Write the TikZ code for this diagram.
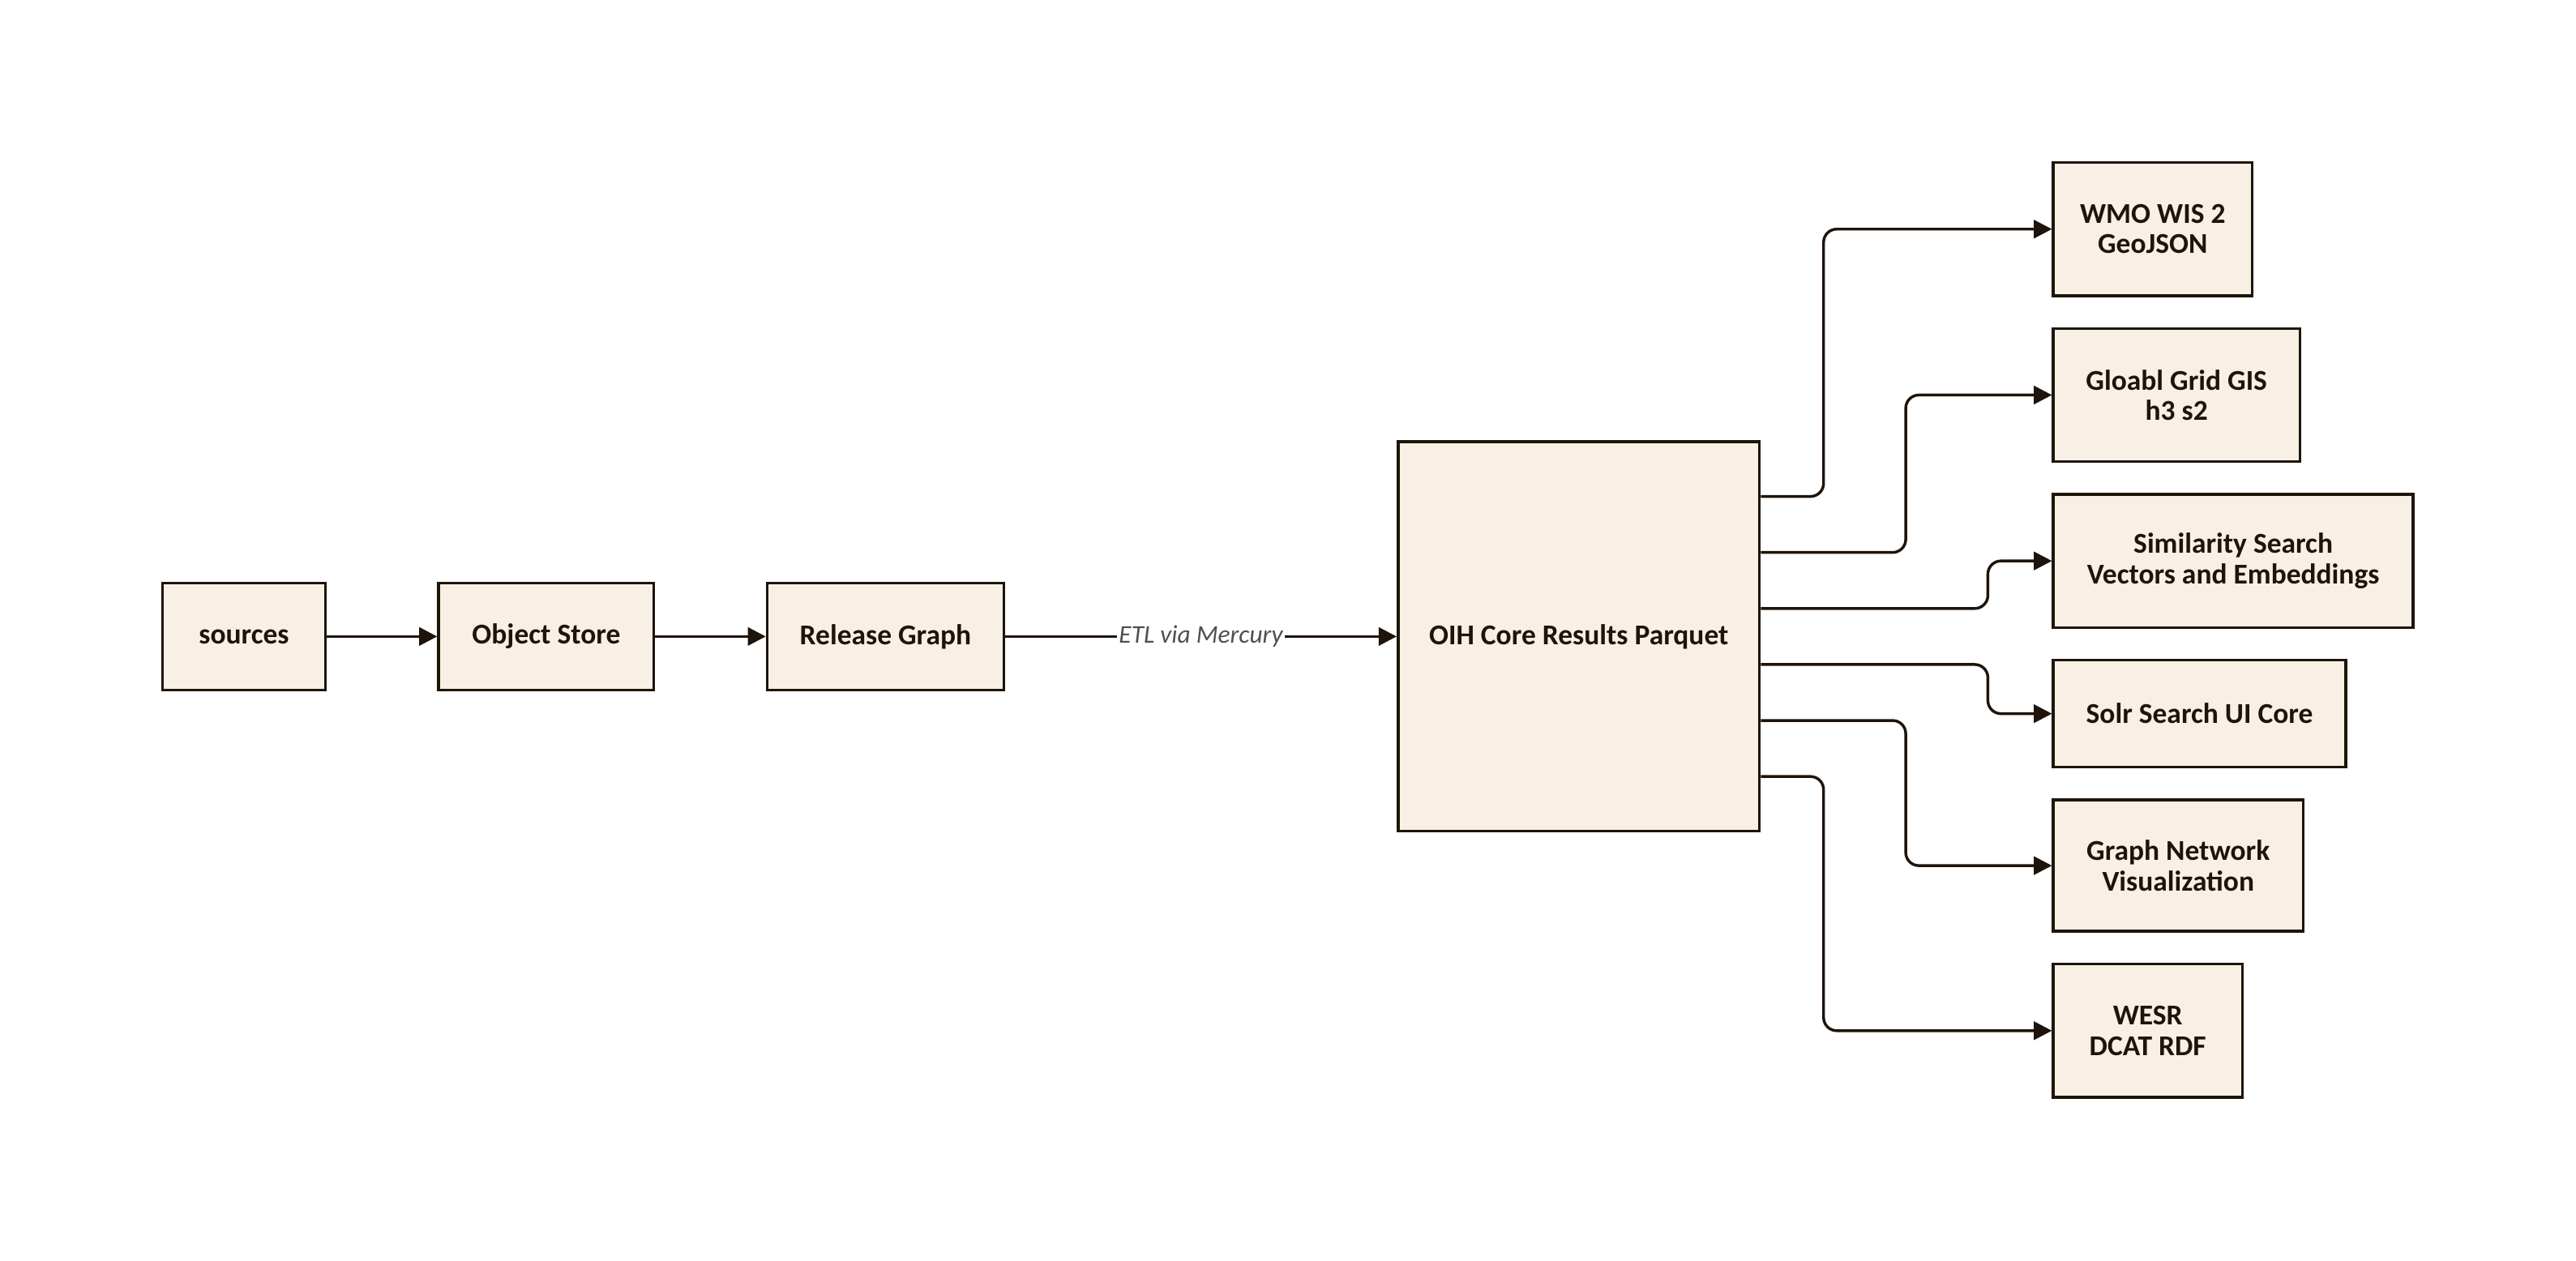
\documentclass[tikz,border=0pt]{standalone}
\usepackage{fontspec}
\setmainfont{Carlito}
\usetikzlibrary{arrows.meta,calc}
\definecolor{boxfill}{RGB}{249,240,229}
\definecolor{ink}{RGB}{30,20,10}
\definecolor{lbl}{RGB}{80,80,80}
\begin{document}
\begin{tikzpicture}[x=1pt,y=-1pt,
  box/.style={draw=ink,fill=boxfill,line width=1.7pt,align=center,inner sep=2pt,
    font=\fontsize{17.5}{18.5}\selectfont\bfseries,text=ink},
  conn/.style={draw=ink,line width=1.7pt,-{Triangle[length=11pt,width=11pt]}},
  elbow/.style={conn,rounded corners=8pt}]
\useasboundingbox (0,0) rectangle (1568,767.7);
% main chain
\node[box,minimum width=99pt,minimum height=65pt] (src) at (148.5,387.5) {sources};
\node[box,minimum width=131pt,minimum height=65pt] (obj) at (332.5,387.5) {Object Store};
\node[box,minimum width=144pt,minimum height=65pt] (rel) at (539,387.5) {Release Graph};
\node[box,minimum width=220pt,minimum height=237pt] (oih) at (961,387.5) {OIH Core Results Parquet};
% outputs
\node[box,anchor=west,minimum width=121pt,minimum height=81pt] (wmo) at (1249,139.5) {WMO WIS 2\\GeoJSON};
\node[box,anchor=west,minimum width=150pt,minimum height=81pt] (ggg) at (1249,240.5) {Gloabl Grid GIS\\h3 s2};
\node[box,anchor=west,minimum width=219pt,minimum height=81pt] (sim) at (1249,341.5) {Similarity Search\\Vectors and Embeddings};
\node[box,anchor=west,minimum width=178pt,minimum height=65pt] (solr) at (1249,434.5) {Solr Search UI Core};
\node[box,anchor=west,minimum width=152pt,minimum height=80pt] (gnv) at (1249,527) {Graph Network\\Visualization};
\node[box,anchor=west,minimum width=115pt,minimum height=81pt] (wesr) at (1249,627.5) {WESR\\DCAT RDF};
% chain connectors
\draw[conn] (src) -- (obj);
\draw[conn] (obj) -- (rel);
\draw[conn] (rel) -- node[fill=white,inner sep=1pt,text=lbl,font=\fontsize{15.5}{18}\selectfont\itshape] {ETL via Mercury} (oih);
% exit points
\coordinate (e1) at ($(oih.north east)!1/7!(oih.south east)$);
\coordinate (e2) at ($(oih.north east)!2/7!(oih.south east)$);
\coordinate (e3) at ($(oih.north east)!3/7!(oih.south east)$);
\coordinate (e4) at ($(oih.north east)!4/7!(oih.south east)$);
\coordinate (e5) at ($(oih.north east)!5/7!(oih.south east)$);
\coordinate (e6) at ($(oih.north east)!6/7!(oih.south east)$);
\coordinate (v1) at (1110,139.5);
\coordinate (v2) at (1160,240.5);
\coordinate (v3) at (1210,341.5);
\coordinate (v4) at (1210,434.5);
\coordinate (v5) at (1160,527);
\coordinate (v6) at (1110,627.5);
\draw[elbow] (e1) -| (v1) -- (wmo.west);
\draw[elbow] (e2) -| (v2) -- (ggg.west);
\draw[elbow] (e3) -| (v3) -- (sim.west);
\draw[elbow] (e4) -| (v4) -- (solr.west);
\draw[elbow] (e5) -| (v5) -- (gnv.west);
\draw[elbow] (e6) -| (v6) -- (wesr.west);
\end{tikzpicture}
\end{document}
